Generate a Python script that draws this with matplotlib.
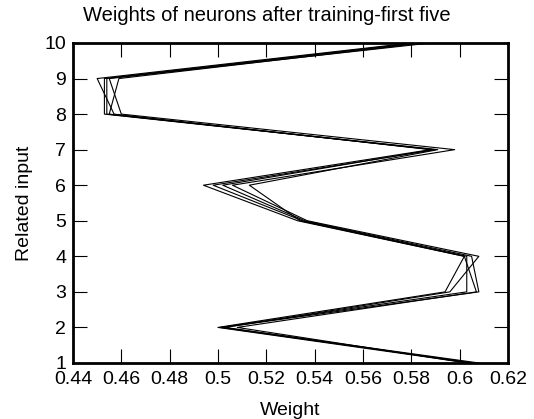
import numpy as np
import matplotlib.pyplot as plt

plt.rcParams['font.family'] = ['Liberation Sans', 'DejaVu Sans']

inputs = [1, 2, 3, 4, 5, 6, 7, 8, 9, 10]

neuron1 = [0.604, 0.500, 0.594, 0.602, 0.533, 0.494, 0.588, 0.457, 0.450, 0.580]
neuron2 = [0.606, 0.501, 0.603, 0.603, 0.535, 0.498, 0.590, 0.453, 0.453, 0.582]
neuron3 = [0.608, 0.502, 0.608, 0.605, 0.536, 0.502, 0.589, 0.455, 0.459, 0.585]
neuron4 = [0.605, 0.503, 0.596, 0.608, 0.537, 0.506, 0.598, 0.460, 0.455, 0.588]
neuron5 = [0.603, 0.508, 0.607, 0.602, 0.534, 0.513, 0.591, 0.454, 0.454, 0.583]

neurons = [neuron1, neuron2, neuron3, neuron4, neuron5]

fig = plt.figure(figsize=(5.34, 4.19), dpi=100)
ax = fig.add_axes([0.1367, 0.1337, 0.8143, 0.7637])

for w in neurons:
    ax.plot(w, inputs, color='black', lw=0.8)

ax.set_xlim(0.44, 0.62)
ax.set_ylim(1, 10)
ax.set_xticks(np.arange(0.44, 0.621, 0.02))
ax.set_xticklabels(['0.44', '0.46', '0.48', '0.5', '0.52', '0.54', '0.56', '0.58', '0.6', '0.62'])
ax.set_yticks(inputs)

ax.tick_params(direction='in', length=10, width=0.8, top=True, right=True, labelsize=14)
ax.tick_params(axis='x', pad=6)
ax.tick_params(axis='y', pad=5)
for s in ax.spines.values():
    s.set_linewidth(2)

# title sits centred on the figure, not the axes
fig.suptitle('Weights of neurons after training-first five', x=0.5, y=0.985, fontsize=14.5)
ax.set_xlabel('Weight', fontsize=14, labelpad=10)
ax.set_ylabel('Related input', fontsize=14, labelpad=8)

fig.savefig('out.png', dpi=100)
